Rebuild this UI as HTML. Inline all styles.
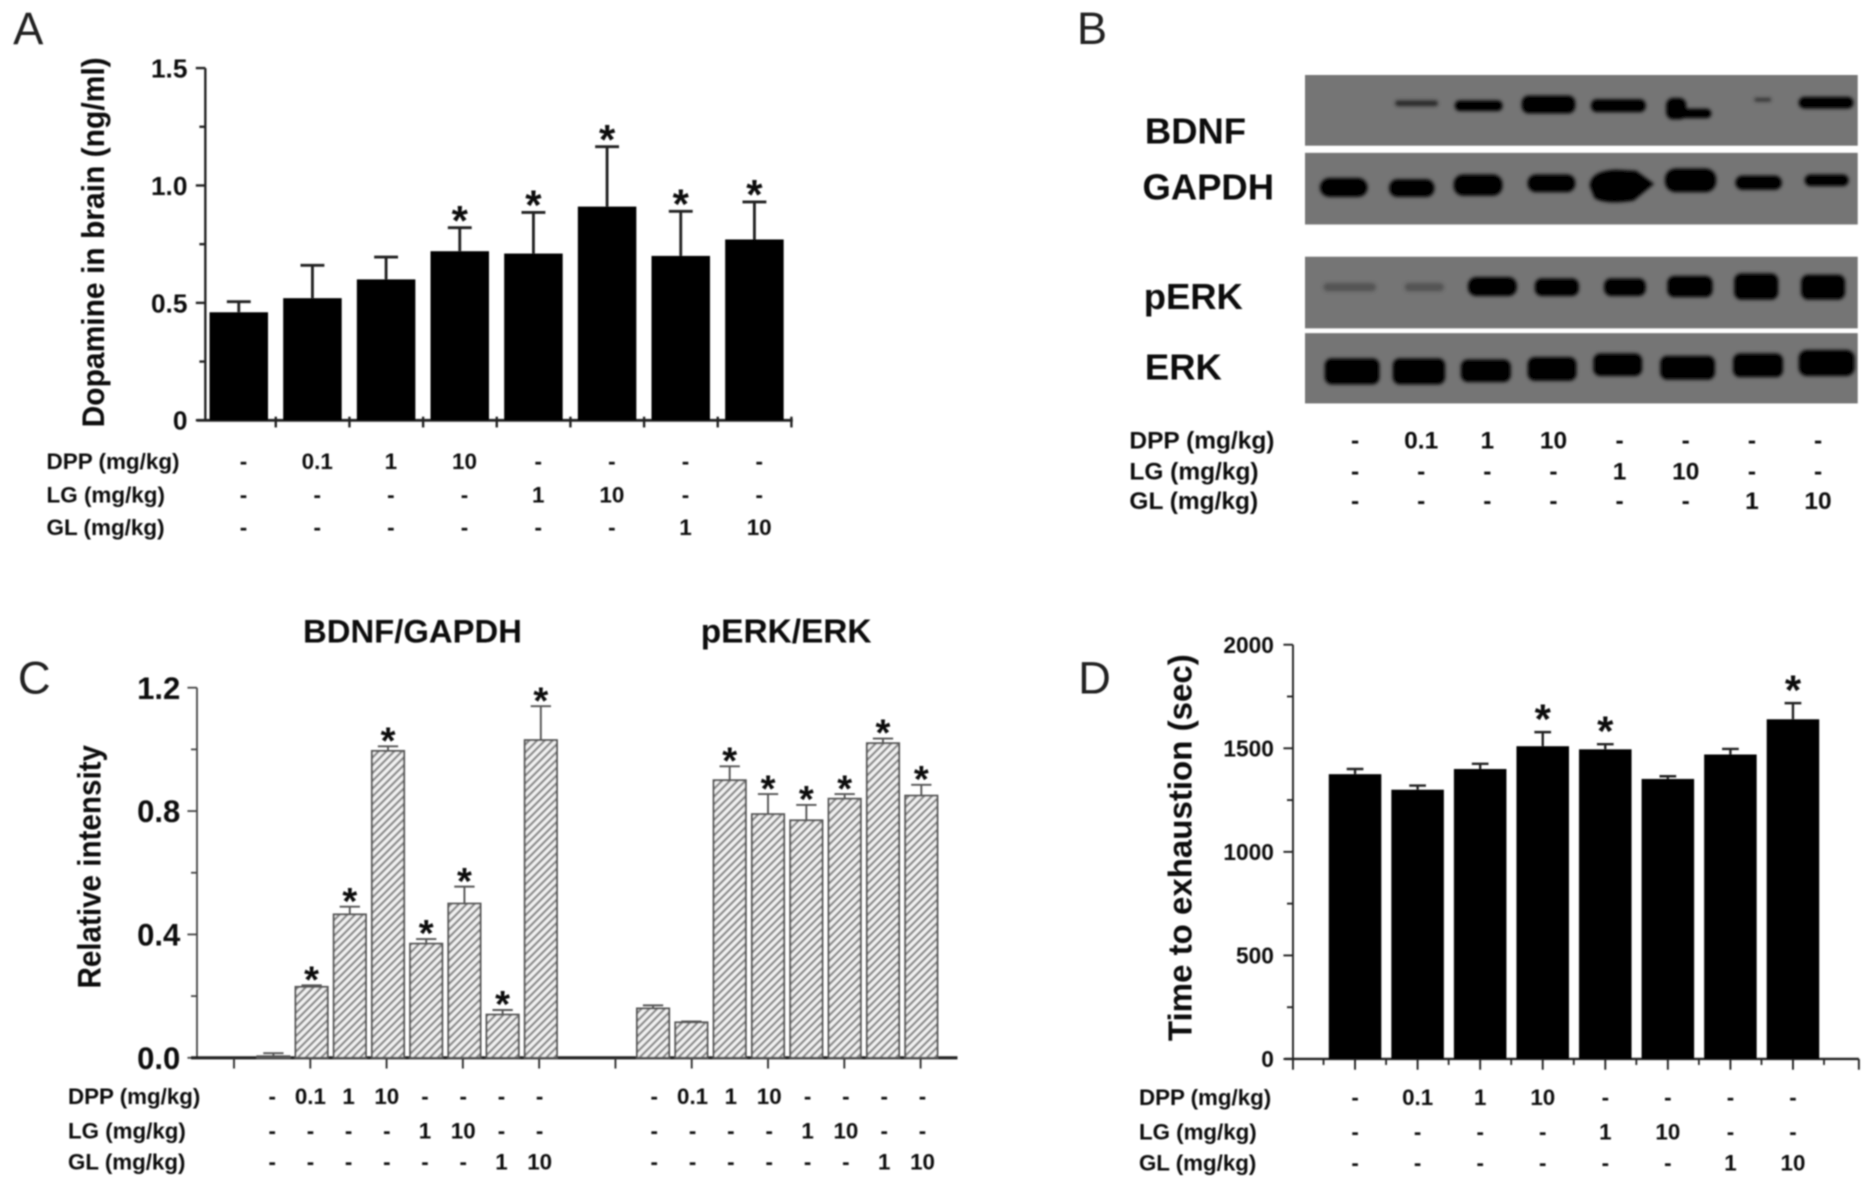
<!DOCTYPE html>
<html lang="en">
<head>
<meta charset="utf-8">
<title>Dopamine, BDNF, pERK and exhaustion figure</title>
<style>
html,body{margin:0;padding:0;background:#fff;width:1872px;height:1187px;overflow:hidden}
svg{display:block}
text{font-family:"Liberation Sans",sans-serif}
</style>
</head>
<body>
<svg id="figure" xmlns="http://www.w3.org/2000/svg" width="1872" height="1187" viewBox="0 0 1568 994.2">
  <defs>
    <filter id="soft" x="-5%" y="-5%" width="110%" height="110%"><feGaussianBlur stdDeviation="0.75"/></filter>
    <filter id="softband" x="-20%" y="-40%" width="140%" height="180%"><feGaussianBlur stdDeviation="1.3"/></filter>
    <pattern id="hatch" patternUnits="userSpaceOnUse" width="4.6" height="4.6" patternTransform="rotate(-45)">
      <rect width="4.6" height="4.6" fill="#f2f2f2"/>
      <line x1="0" y1="2.3" x2="4.6" y2="2.3" stroke="#8a8a8a" stroke-width="1.9"/>
    </pattern>
  </defs>
  <g id="root" filter="url(#soft)">
    <g>
      <rect x="1093" y="63" width="463" height="59" fill="#747474"/>
      <rect x="1093" y="128" width="463" height="60" fill="#747474"/>
      <rect x="1093" y="215" width="463" height="60" fill="#747474"/>
      <rect x="1093" y="279" width="463" height="59" fill="#747474"/>
      <g transform="translate(3.5 0)" filter="url(#softband)" fill="#050505">
        <rect x="1165" y="84" width="36" height="5" rx="2.5" fill="#2b2b2b"/>
        <rect x="1215" y="84" width="40" height="9" rx="4"/>
        <rect x="1271" y="80" width="45" height="15" rx="6"/>
        <rect x="1329" y="83" width="46" height="11" rx="5"/>
        <rect x="1392" y="82" width="17" height="18" rx="6"/>
        <rect x="1400" y="91" width="30" height="8" rx="4"/>
        <rect x="1466" y="82" width="14" height="3" rx="1.5" fill="#333"/>
        <rect x="1503" y="81" width="46" height="10" rx="5"/>
      </g>
      <g transform="translate(3.5 0)" filter="url(#softband)" fill="#050505">
        <rect x="1102" y="149" width="40" height="16" rx="8"/>
        <rect x="1160" y="150" width="38" height="15" rx="7"/>
        <rect x="1214" y="146" width="41" height="18" rx="8"/>
        <rect x="1276" y="146" width="40" height="15" rx="7"/>
        <path d="M1328 156 Q1328 143 1350 142 L1367 143 L1382 154 L1365 168 Q1342 172 1332 166 Z"/>
        <rect x="1391" y="141" width="43" height="20" rx="9"/>
        <rect x="1450" y="147" width="39" height="12" rx="6"/>
        <rect x="1508" y="146" width="37" height="10" rx="5"/>
      </g>
      <g transform="translate(3.5 0)" filter="url(#softband)" fill="#050505">
        <rect x="1105" y="237" width="44" height="7" rx="3.5" fill="#555"/>
        <rect x="1173" y="237" width="33" height="7" rx="3.5" fill="#555"/>
        <rect x="1226" y="232" width="41" height="16" rx="7"/>
        <rect x="1282" y="233" width="37" height="15" rx="6"/>
        <rect x="1340" y="233" width="35" height="15" rx="6"/>
        <rect x="1393" y="231" width="38" height="18" rx="6"/>
        <rect x="1449" y="229" width="37" height="22" rx="6"/>
        <rect x="1505" y="230" width="37" height="21" rx="6"/>
      </g>
      <g transform="translate(3.5 0)" filter="url(#softband)" fill="#050505">
        <rect x="1106" y="300" width="46" height="22" rx="6"/>
        <rect x="1163" y="300" width="44" height="22" rx="6"/>
        <rect x="1220" y="301" width="42" height="19" rx="6"/>
        <rect x="1276" y="299" width="41" height="20" rx="6"/>
        <rect x="1331" y="296" width="41" height="19" rx="6"/>
        <rect x="1387" y="298" width="46" height="20" rx="6"/>
        <rect x="1448" y="296" width="42" height="20" rx="6"/>
        <rect x="1503" y="293" width="47" height="22" rx="7"/>
      </g>
      <text x="959" y="120" font-size="30.5" font-weight="bold" fill="#111">BDNF</text>
      <text x="957" y="167" font-size="30.5" font-weight="bold" fill="#111">GAPDH</text>
      <text x="958" y="259" font-size="30.5" font-weight="bold" fill="#111">pERK</text>
      <text x="959" y="318" font-size="30.5" font-weight="bold" fill="#111">ERK</text>
    </g>
    <text x="11" y="37" font-size="38" fill="#222">A</text>
    <text x="902" y="37" font-size="38" fill="#222">B</text>
    <text x="15" y="581" font-size="38" fill="#222">C</text>
    <text x="903" y="581" font-size="38" fill="#222">D</text>
    <text x="345.5" y="538" font-size="27.5" font-weight="bold" text-anchor="middle" fill="#111">BDNF/GAPDH</text>
    <text x="658.5" y="538" font-size="28" font-weight="bold" text-anchor="middle" fill="#111">pERK/ERK</text>
  </g>
</svg>
<script>
// Treatment rows shared by every panel
var dppRow = ['-', '0.1', '1', '10', '-', '-', '-', '-'];
var lgRow = ['-', '-', '-', '-', '1', '10', '-', '-'];
var glRow = ['-', '-', '-', '-', '-', '-', '1', '10'];

// Panel A: dopamine in brain (ng/ml)
var dopamineValues = [0.46, 0.52, 0.60, 0.72, 0.71, 0.91, 0.70, 0.77];
var dopamineErrorTops = [0.505, 0.66, 0.695, 0.82, 0.885, 1.165, 0.89, 0.93];
var dopamineStars = [false, false, false, true, true, true, true, true];
var dopamineTicks = ['0', '0.5', '1.0', '1.5'];
var dopamineTickValues = [0, 0.5, 1, 1.5];

// Panel C: relative intensity
var bdnfValues = [0.005, 0.23, 0.465, 0.995, 0.37, 0.50, 0.14, 1.03];
var bdnfErrorTops = [0.015, 0.235, 0.49, 1.01, 0.385, 0.555, 0.155, 1.14];
var bdnfStars = [false, true, true, true, true, true, true, true];
var perkValues = [0.16, 0.115, 0.90, 0.79, 0.77, 0.84, 1.02, 0.85];
var perkErrorTops = [0.17, 0.118, 0.945, 0.855, 0.82, 0.855, 1.035, 0.885];
var perkStars = [false, false, true, true, true, true, true, true];
var intensityTicks = ['0.0', '0.4', '0.8', '1.2'];
var intensityTickValues = [0, 0.4, 0.8, 1.2];

// Panel D: time to exhaustion (sec)
var exhaustionValues = [1375, 1300, 1400, 1510, 1495, 1352, 1470, 1640];
var exhaustionErrorTops = [1400, 1320, 1425, 1578, 1520, 1365, 1497, 1718];
var exhaustionStars = [false, false, false, true, true, false, false, true];
var exhaustionTicks = ['0', '500', '1000', '1500', '2000'];
var exhaustionTickValues = [0, 500, 1000, 1500, 2000];

var root = document.getElementById('root');
var NS = 'http://www.w3.org/2000/svg';

function mk(tag, attrs, name, parent) {
  var el = document.createElementNS(NS, tag);
  for (var k in attrs) el.setAttribute(k, attrs[k]);
  
  
  (parent || root).appendChild(el);
  return el;
}
function line(x1, y1, x2, y2, color, w, name, parent) {
  return mk('line', {x1: x1, y1: y1, x2: x2, y2: y2, stroke: color, 'stroke-width': w}, name, parent);
}
function label(x, y, str, size, anchor, color, name, parent) {
  var t = mk('text', {x: x, y: y, 'font-size': size, 'font-weight': 'bold', 'text-anchor': anchor, fill: color}, name, parent);
  t.textContent = str;
  return t;
}

// Linear axis builder
function scaleY(y0, yTop, max) {
  return function (v) { return y0 - (v / max) * (y0 - yTop); };
}
function scaleX(first, step) {
  return function (i) { return first + i * step; };
}

function drawBars(g, xf, yf, vals, tops, stars, o) {
  var base = yf(0);
  vals.forEach(function (v, i) {
    var x = xf(i);
    var y = yf(v);
    var top = yf(tops[i]);
    line(x, y, x, top, o.errColor, o.errW, 'error-stem', g);
    line(x - o.cap / 2, top, x + o.cap / 2, top, o.errColor, o.errW, 'error-cap', g);
    mk('rect', {x: x - o.barW / 2, y: y, width: o.barW, height: base - y, fill: o.fill, stroke: o.stroke, 'stroke-width': o.strokeW}, 'bar', g);
    if (stars[i]) {
      label(x, top + o.starShift, '*', o.starSize, 'middle', '#111', 'significance-star', g);
    }
  });
}

function drawYAxis(g, ax, yf, ticks, tickVals, minorVals, o) {
  line(ax, yf(tickVals[tickVals.length - 1]), ax, yf(0) + 1, o.color, o.w, 'y-axis-line', g);
  tickVals.forEach(function (v, i) {
    line(ax - 8, yf(v), ax, yf(v), o.color, o.w, 'y-major-tick', g);
    label(o.labelRight, yf(v) + o.labelSize * 0.36, ticks[i], o.labelSize, 'end', '#111', 'y-tick-label', g);
  });
  minorVals.forEach(function (v) {
    line(ax - 5, yf(v), ax, yf(v), o.color, o.w, 'y-minor-tick', g);
  });
}

function drawRows(g, xf, rowY, size, dx, labelX) {
  var rows = [dppRow, lgRow, glRow];
  var names = ['DPP (mg/kg)', 'LG (mg/kg)', 'GL (mg/kg)'];
  rows.forEach(function (row, r) {
    if (labelX !== null) label(labelX, rowY[r], names[r], size, 'start', '#111', 'treatment-row-label', g);
    row.forEach(function (s, i) {
      label(xf(i) + dx, rowY[r], s, size, 'middle', '#111', 'treatment-value', g);
    });
  });
}

function rotatedTitle(g, cx, cy, str, size, len, name) {
  var t = label(0, 0, str, size, 'middle', '#111', name, g);
  t.setAttribute('transform', 'translate(' + cx + ',' + cy + ') rotate(-90)');
  t.setAttribute('textLength', len);
  t.setAttribute('lengthAdjust', 'spacingAndGlyphs');
}

// ---------- Panel A ----------
var gA = mk('g', {}, 'panel-a-dopamine-chart');
var yA = scaleY(352, 57, 1.5);
var xA = scaleX(200, 61.7);
drawYAxis(gA, 172, yA, dopamineTicks, dopamineTickValues, [0.25, 0.75, 1.25], {color: '#222', w: 2, labelRight: 157, labelSize: 22});
line(165, yA(0), 664, yA(0), '#222', 2.4, 'x-axis-line', gA);
for (var a = 0; a < 8; a++) {
  line(xA(a) + 31, yA(0) - 3, xA(a) + 31, yA(0) + 6, '#222', 2, 'x-tick', gA);
}
drawBars(gA, xA, yA, dopamineValues, dopamineErrorTops, dopamineStars, {barW: 49, cap: 20, errColor: '#222', errW: 2.4, fill: '#000', stroke: 'none', strokeW: 0, starShift: 6, starSize: 35});
rotatedTitle(gA, 87, 203, 'Dopamine in brain (ng/ml)', 26, 310, 'y-axis-title');
drawRows(gA, xA, [393, 421, 448], 18.8, 4, 39);

// ---------- Panel B treatment rows ----------
var gB = mk('g', {}, 'panel-b-treatment-table');
var xB = scaleX(1135, 55.4);
drawRows(gB, xB, [375.5, 401.5, 426.5], 20.5, 0, 946);

// ---------- Panel C ----------
var gC = mk('g', {}, 'panel-c-intensity-chart');
var yC = scaleY(886, 576, 1.2);
var xC1 = scaleX(229, 32);
var xC2 = scaleX(547, 32.1);
drawYAxis(gC, 165, yC, intensityTicks, intensityTickValues, [0.2, 0.6, 1.0], {color: '#444', w: 1.5, labelRight: 151, labelSize: 26});
line(160, yC(0), 802, yC(0), '#222', 2.6, 'x-axis-line', gC);
for (var c = 0; c < 10; c++) {
  line(196 + c * 63.9, yC(0), 196 + c * 63.9, yC(0) + 9, '#333', 1.6, 'x-tick', gC);
}
var barStyleC = {barW: 27, cap: 17, errColor: '#555', errW: 1.6, fill: 'url(#hatch)', stroke: '#555', strokeW: 1.6, starShift: 6, starSize: 32};
var gC1 = mk('g', {}, 'bdnf-gapdh-bars', gC);
drawBars(gC1, xC1, yC, bdnfValues, bdnfErrorTops, bdnfStars, barStyleC);
var gC2 = mk('g', {}, 'perk-erk-bars', gC);
drawBars(gC2, xC2, yC, perkValues, perkErrorTops, perkStars, barStyleC);
rotatedTitle(gC, 84, 726, 'Relative intensity', 27, 204, 'y-axis-title');
drawRows(gC, xC1, [924.5, 953.5, 979.5], 18.7, -1, 57);
drawRows(gC, xC2, [924.5, 953.5, 979.5], 18.7, 1, null);

// ---------- Panel D ----------
var gD = mk('g', {}, 'panel-d-exhaustion-chart');
var yD = scaleY(887, 540, 2000);
var xD = scaleX(1135, 52.4);
drawYAxis(gD, 1083, yD, exhaustionTicks, exhaustionTickValues, [250, 750, 1250, 1750], {color: '#222', w: 1.6, labelRight: 1067, labelSize: 19});
line(1076, yD(0), 1557, yD(0), '#222', 2, 'x-axis-line', gD);
for (var d = -1; d < 9; d++) {
  line(xD(d) + 26, yD(0), xD(d) + 26, yD(0) + 5, '#222', 1.5, 'x-minor-tick', gD);
  if (d >= 0 && d < 8) line(xD(d), yD(0), xD(d), yD(0) + 9, '#222', 1.6, 'x-major-tick', gD);
}
line(1083, yD(0), 1083, yD(0) + 9, '#222', 1.6, 'x-major-tick', gD);
line(1557, yD(0), 1557, yD(0) + 9, '#222', 1.6, 'x-major-tick', gD);
drawBars(gD, xD, yD, exhaustionValues, exhaustionErrorTops, exhaustionStars, {barW: 44, cap: 14, errColor: '#222', errW: 2, fill: '#000', stroke: 'none', strokeW: 0, starShift: 1, starSize: 35});
rotatedTitle(gD, 998, 710, 'Time to exhaustion (sec)', 28, 324, 'y-axis-title');
drawRows(gD, xD, [925.5, 954.5, 980.5], 18.7, 0, 954);
</script>
</body>
</html>
